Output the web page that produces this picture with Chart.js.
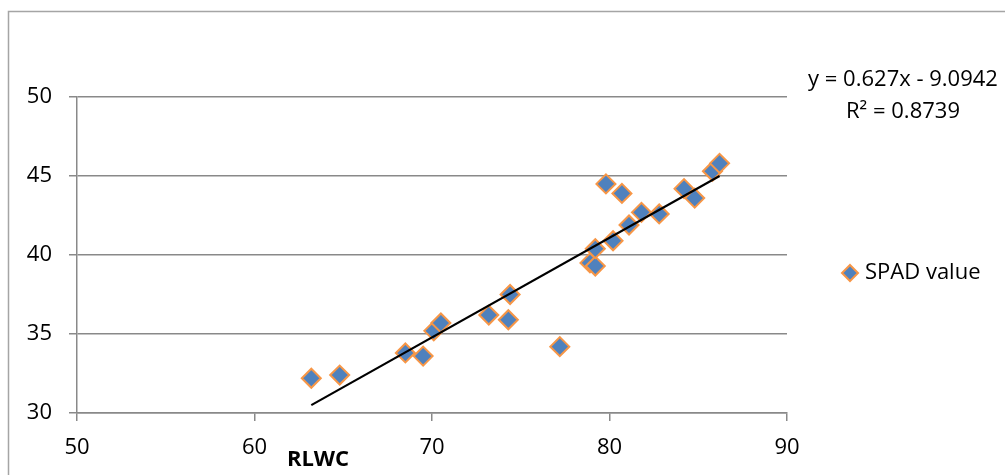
<!DOCTYPE html>
<html>
<head>
<meta charset="utf-8">
<script src="https://cdn.jsdelivr.net/npm/chart.js@4/dist/chart.umd.min.js"></script>
<style>
html, body { margin: 0; padding: 0; background: #fff; }
#wrap { width: 1005px; height: 475px; position: relative; }
</style>
</head>
<body>
<div id="wrap"><canvas id="scatterChart"></canvas></div>
<script>
// RLWC (x) vs SPAD value (y)
var rlwc = [63.2, 64.8, 68.5, 69.5, 70.1, 70.5, 73.2, 74.3, 74.4, 77.2, 78.9, 79.2,
            79.2, 79.8, 80.2, 80.7, 81.1, 81.8, 82.8, 84.2, 84.8, 85.8, 86.2];
var spad = [32.2, 32.4, 33.8, 33.6, 35.2, 35.7, 36.2, 35.9, 37.5, 34.2, 39.5, 39.3,
            40.4, 44.5, 40.9, 43.9, 41.9, 42.7, 42.6, 44.2, 43.6, 45.3, 45.8];

// trendline ends as drawn in the picture
var trendX = [63.2, 86.2];
var trendY = [30.5, 45.0];

var xTicks = [50, 60, 70, 80, 90];
var yTicks = [30, 35, 40, 45, 50];

var seriesName = 'SPAD value';
var xTitle = 'RLWC';
var eqLines = ['y = 0.627x - 9.0942', 'R\u00B2 = 0.8739'];

var FONT = '"Open Sans", "Noto Sans", sans-serif';
var gridGray = '#898989';

var points = rlwc.map(function (x, i) { return { x: x, y: spad[i] }; });
var trend = trendX.map(function (x, i) { return { x: x, y: trendY[i] }; });

function diamond(ctx, x, y, r) {
    ctx.beginPath();
    ctx.moveTo(x, y - r);
    ctx.lineTo(x + r, y);
    ctx.lineTo(x, y + r);
    ctx.lineTo(x - r, y);
    ctx.closePath();
}

// frame, axis title, equation and legend, like the Excel sheet
var decor = {
    id: 'decor',
    beforeDraw: function (chart) {
        var ctx = chart.ctx;
        ctx.save();
        ctx.strokeStyle = '#a5a5a5';
        ctx.lineWidth = 1.5;
        ctx.beginPath();
        ctx.moveTo(8.5, 475);
        ctx.lineTo(8.5, 11.5);
        ctx.lineTo(1005, 11.5);
        ctx.stroke();
        ctx.restore();
    },
    afterDraw: function (chart) {
        var ctx = chart.ctx;
        ctx.save();
        ctx.fillStyle = '#000';
        ctx.textBaseline = 'middle';

        ctx.font = 'bold 22px ' + FONT;
        ctx.textAlign = 'center';
        ctx.fillText(xTitle, 318, 460);

        ctx.font = '22px ' + FONT;
        ctx.fillText(eqLines[0], 903, 80);
        ctx.fillText(eqLines[1], 903, 112);

        diamond(ctx, 850, 273, 8);
        ctx.fillStyle = '#4F81BD';
        ctx.fill();
        ctx.strokeStyle = '#F79646';
        ctx.lineWidth = 2;
        ctx.stroke();

        ctx.fillStyle = '#000';
        ctx.textAlign = 'left';
        ctx.fillText(seriesName, 865, 273);
        ctx.restore();
    }
};

var ctx = document.getElementById('scatterChart').getContext('2d');
var scatterChart = new Chart(ctx, {
    type: 'scatter',
    data: {
        datasets: [{
            label: seriesName,
            data: points,
            pointStyle: 'rectRot',
            pointRadius: 9.5,
            pointHoverRadius: 9.5,
            backgroundColor: '#4F81BD',
            borderColor: '#F79646',
            borderWidth: 2,
            order: 2
        }, {
            label: 'trend',
            data: trend,
            showLine: true,
            fill: false,
            borderColor: '#000',
            borderWidth: 2.2,
            pointRadius: 0,
            order: 1
        }]
    },
    options: {
        responsive: true,
        maintainAspectRatio: false,
        animation: false,
        layout: { padding: { left: 0, top: 97, right: 218, bottom: 0 } },
        plugins: {
            legend: { display: false },
            tooltip: { enabled: false }
        },
        scales: {
            x: {
                type: 'linear',
                min: xTicks[0],
                max: xTicks[xTicks.length - 1],
                afterBuildTicks: function (s) { s.ticks = xTicks.map(function (v) { return { value: v }; }); },
                afterFit: function (s) { s.height = 62; },
                ticks: { color: '#000', padding: 14, font: { family: FONT, size: 22 } },
                grid: { drawOnChartArea: false, drawTicks: true, tickLength: 8, color: gridGray, lineWidth: 1.5 },
                border: { color: gridGray, width: 1.5 }
            },
            y: {
                min: yTicks[0],
                max: yTicks[yTicks.length - 1],
                afterBuildTicks: function (s) { s.ticks = yTicks.map(function (v) { return { value: v }; }); },
                afterFit: function (s) { s.width = 77; },
                ticks: { color: '#000', padding: 17, font: { family: FONT, size: 22 } },
                grid: { color: gridGray, lineWidth: 1.5, tickLength: 8 },
                border: { color: gridGray, width: 1.5 }
            }
        }
    },
    plugins: [decor]
});
</script>
</body>
</html>
